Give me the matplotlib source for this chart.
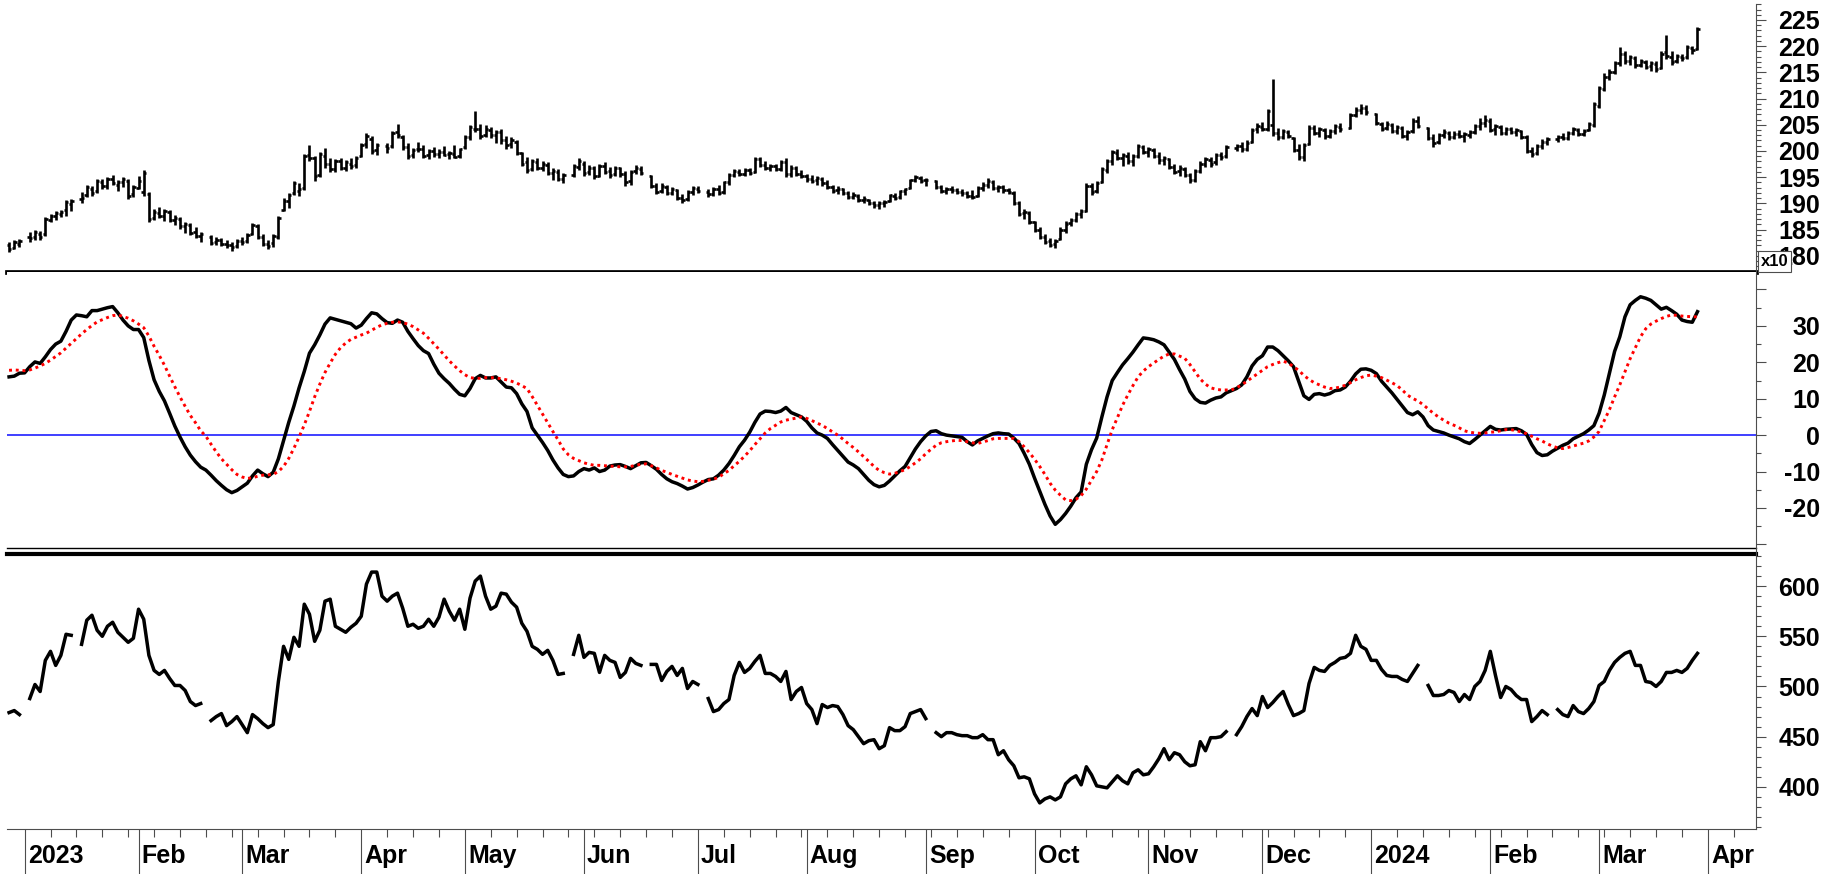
import numpy as np
import matplotlib
matplotlib.use("Agg")
import matplotlib.pyplot as plt
from matplotlib.collections import LineCollection
from matplotlib.ticker import MultipleLocator, FixedLocator, FuncFormatter
from matplotlib.lines import Line2D

plt.rcParams['font.family'] = ['Liberation Sans', 'DejaVu Sans']

# x = weekday index, 0 = Mon 2 Jan 2023 (holidays keep their slot, None = no data)
first_day = -3

# price bars, one row per week (Mon..Fri)
opens = [
    182.0, 181.5, 182.3,
    None, 183.6, 183.6, 184.2, 184.2,  186.8, 187.6, 188.0, 188.8, 189.8,
    None, 190.8, 191.6, 192.8, 192.4,  194.0, 193.4, 194.6, 193.6, 194.0,
    194.2, 191.8, 193.0, 192.2, 191.8,  187.2, 188.2, 187.6, 188.4, 186.8,
    187.0, 185.6, 185.8, 184.6, 183.8,  None, 183.6, 182.6, 183.0, 182.2,
    182.0, 181.8, 182.8, 182.8, 184.2,  185.6, 183.6, 182.2, 182.4, 183.6,
    188.8, 190.4, 192.0, 192.4, 193.0,  199.2, 198.6, 195.4, 199.0, 197.6,
    196.6, 198.0, 196.8, 197.6, 197.4,  199.0, 201.4, 202.2, 200.2, None,
    201.0, 201.0, 203.6, 202.6, 200.8,  199.2, 200.4, 200.4, 199.2, 200.0,
    199.4, 199.8, 199.4, 199.4, 199.0,  200.8, 202.6, 204.2, 204.2, 203.0,
    204.0, 203.0, 203.6, 202.0, 201.4,  201.8, 199.6, 197.8, 196.6, 197.8,
    196.8, 197.4, 195.8, 196.0, 194.6,  None, 195.4, 197.0, 197.6, 196.0,
    196.8, 195.2, 197.2, 196.2, 195.6,  196.8, 195.6, 194.2, 196.2, 196.6,
    None, 195.2, 193.4, 192.4, 193.2,  192.0, 192.6, 191.0, 190.8, 192.2,
    192.8, None, 192.2, 191.8, 192.8,  192.2, 194.0, 195.4, 196.0, 195.6,
    196.4, 196.0, 198.4, 197.4, 196.8,  197.2, 196.6, 197.8, 195.6, 196.8,
    195.6, 195.2, 194.6, 194.4, 194.6,  193.8, 193.2, 192.6, 192.8, 192.0,
    191.2, 191.4, 190.6, 190.6, 190.0,  189.6, 190.0, 190.4, 191.4, 191.2,
    192.4, 193.0, 194.4, 194.8, 194.4,  None, 194.2, 193.2, 192.4, 192.8,
    192.6, 192.2, 192.0, 191.4, 191.4,  193.0, 193.6, 194.0, 193.0, 193.2,
    192.6, 192.0, 190.0, 188.2, 188.2,  186.4, 185.0, 183.6, 182.8, 182.2,
    183.2, 185.0, 186.2, 186.8, 188.0,  188.6, 193.4, 192.4, 194.0, 196.4,
    198.0, 199.6, 198.6, 199.0, 198.0,  199.0, 200.8, 199.8, 200.2, 199.0,
    198.2, 198.4, 197.0, 196.2, 196.6,  195.4, 194.4, 196.2, 197.6, 198.2,
    197.8, 199.2, 199.0, None, 200.6,  201.0, 200.4, 201.8, 204.2, 204.6,
    204.2, 205.0, 203.4, 202.6, 203.6,  202.4, 200.2, 198.8, 201.4, 204.4,
    203.4, 204.0, 202.8, 203.8, 204.6,  None, 204.4, 206.8, 207.8, 208.2,
    None, 207.0, 205.2, 204.4, 205.0,  203.8, 204.4, 202.8, 203.8, 205.8,
    None, 204.4, 202.4, 201.8, 203.0,  203.4, 202.6, 203.2, 202.8, 203.0,
    203.6, 204.8, 205.4, 205.8, 204.2,  204.6, 203.4, 204.2, 203.6, 203.8,
    202.6, 200.0, 199.6, 201.0, 201.8,  None, 202.2, 202.6, 202.4, 203.4,
    204.0, 203.2, 204.0, 205.0, 208.6,  211.8, 214.2, 215.0, 216.8, 218.6,
    217.2, 217.8, 216.4, 217.0, 216.2,  216.6, 215.8, 218.8, 218.0, 217.2,
    218.0, 218.0, 219.6, 219.4,
]
highs = [
    182.6, 183.0, 183.2,
    None, 184.6, 185.0, 184.8, 187.4,  188.0, 188.6, 188.8, 190.6, 190.8,
    None, 192.2, 193.6, 193.4, 194.6,  194.6, 195.0, 195.4, 194.4, 195.0,
    194.6, 193.6, 195.2, 196.4, 192.2,  189.0, 189.4, 189.0, 188.8, 187.8,
    187.4, 186.4, 186.2, 185.4, 184.6,  None, 184.0, 183.6, 183.4, 183.0,
    182.6, 183.2, 183.6, 184.4, 186.2,  186.0, 184.2, 183.0, 184.2, 187.6,
    191.0, 192.0, 194.2, 193.8, 199.4,  201.2, 199.0, 199.8, 200.6, 198.6,
    198.4, 198.6, 198.2, 198.6, 199.0,  201.6, 203.4, 202.8, 201.6, None,
    201.6, 203.8, 205.2, 203.0, 201.6,  200.6, 201.8, 201.2, 200.4, 200.8,
    200.4, 201.0, 200.0, 201.2, 200.6,  203.0, 205.0, 207.6, 205.2, 205.0,
    204.6, 204.0, 204.2, 202.8, 202.6,  202.0, 199.8, 198.8, 198.4, 198.6,
    198.0, 197.8, 196.8, 196.6, 195.8,  None, 197.6, 198.6, 198.0, 197.4,
    197.2, 197.6, 197.8, 197.0, 197.2,  197.0, 196.2, 196.4, 197.4, 197.2,
    None, 195.4, 193.8, 193.8, 193.6,  193.2, 192.8, 191.8, 192.6, 193.4,
    193.4, None, 192.8, 193.2, 193.6,  194.2, 195.8, 196.6, 196.6, 196.8,
    196.8, 198.8, 198.8, 198.0, 197.6,  197.6, 198.2, 198.6, 197.4, 197.2,
    196.4, 195.6, 195.4, 195.2, 195.0,  194.4, 193.6, 193.4, 193.0, 192.4,
    192.2, 191.8, 191.4, 190.8, 190.4,  190.4, 190.6, 191.8, 192.0, 192.6,
    193.0, 194.6, 195.4, 195.2, 194.8,  None, 194.4, 193.6, 193.2, 193.4,
    193.0, 192.8, 192.4, 192.6, 193.4,  194.0, 194.8, 194.4, 193.6, 193.6,
    193.0, 192.4, 190.4, 189.0, 188.6,  186.6, 185.4, 184.2, 183.4, 183.2,
    185.4, 186.6, 187.2, 188.4, 189.0,  193.8, 193.8, 194.2, 197.0, 198.4,
    200.2, 200.4, 199.6, 199.8, 199.4,  201.4, 201.2, 200.8, 200.6, 199.8,
    199.0, 198.6, 197.6, 197.4, 197.0,  195.8, 196.6, 198.0, 198.8, 198.8,
    199.6, 199.8, 201.2, None, 201.4,  201.8, 202.0, 204.4, 205.4, 205.6,
    208.0, 213.8, 204.4, 204.2, 204.0,  202.6, 201.4, 201.6, 205.0, 205.0,
    204.6, 204.4, 204.2, 205.2, 205.4,  None, 207.2, 208.4, 209.0, 208.8,
    None, 207.2, 205.6, 205.8, 205.4,  205.0, 204.8, 204.0, 206.2, 206.6,
    None, 204.6, 203.2, 203.4, 204.2,  203.8, 203.8, 204.0, 203.6, 204.0,
    205.2, 206.2, 206.8, 206.2, 205.2,  205.0, 204.6, 204.6, 204.4, 204.0,
    203.0, 200.8, 201.4, 202.2, 202.6,  None, 203.0, 203.4, 203.8, 204.6,
    204.4, 204.2, 205.6, 209.4, 212.4,  214.8, 215.6, 217.2, 219.8, 219.0,
    218.4, 218.2, 217.6, 217.4, 217.2,  217.2, 219.0, 222.2, 219.0, 218.6,
    218.6, 220.2, 220.0, 223.6,
]
lows = [
    180.8, 181.2, 181.6,
    None, 182.6, 183.0, 183.0, 183.8,  186.4, 186.8, 187.4, 187.6, 188.6,
    None, 190.0, 191.2, 191.4, 192.0,  192.8, 192.8, 193.6, 192.4, 193.2,
    190.8, 191.2, 192.8, 191.4, 186.5,  186.8, 187.2, 186.6, 186.4, 185.8,
    185.2, 184.4, 184.0, 183.4, 182.6,  None, 182.0, 182.0, 181.8, 181.4,
    181.0, 181.4, 182.0, 182.4, 184.0,  183.2, 181.8, 181.2, 181.6, 183.2,
    188.6, 189.2, 191.6, 191.4, 192.6,  198.0, 194.2, 195.0, 196.8, 196.0,
    196.0, 196.4, 196.2, 196.6, 196.8,  198.8, 200.6, 199.4, 199.2, None,
    199.6, 200.6, 202.4, 200.2, 198.4,  198.6, 199.8, 198.6, 198.4, 198.8,
    198.6, 199.0, 198.4, 198.6, 198.6,  200.4, 202.0, 203.6, 202.2, 202.6,
    202.4, 201.6, 201.4, 200.4, 200.6,  199.2, 197.2, 195.8, 196.2, 196.4,
    196.2, 195.4, 194.4, 194.2, 193.8,  None, 195.0, 196.4, 195.2, 195.4,
    194.6, 195.0, 195.6, 194.8, 195.2,  195.0, 193.4, 193.6, 195.6, 195.4,
    None, 193.0, 191.8, 192.0, 191.6,  191.6, 190.6, 190.0, 190.4, 191.6,
    192.0, None, 191.2, 191.4, 191.6,  191.8, 193.6, 195.0, 195.2, 195.2,
    195.4, 195.8, 197.0, 196.4, 196.2,  196.2, 196.2, 195.0, 195.0, 195.2,
    194.8, 194.0, 193.8, 193.6, 193.4,  192.8, 192.0, 191.8, 191.6, 190.8,
    190.8, 190.2, 190.0, 189.6, 189.2,  189.0, 189.4, 190.2, 190.6, 190.8,
    191.6, 192.8, 194.0, 193.8, 193.4,  None, 192.8, 192.0, 191.8, 192.0,
    191.8, 191.4, 191.0, 190.8, 191.2,  192.4, 193.0, 192.6, 192.2, 192.0,
    191.8, 189.6, 187.6, 187.0, 186.0,  184.6, 183.2, 182.2, 181.6, 181.4,
    183.0, 184.4, 185.6, 186.4, 187.2,  188.4, 191.6, 192.0, 193.8, 195.8,
    197.4, 198.2, 197.2, 197.6, 197.2,  198.6, 199.4, 198.8, 198.6, 197.6,
    197.4, 196.6, 195.6, 195.2, 195.0,  193.8, 194.0, 195.8, 197.0, 197.0,
    197.4, 198.2, 198.6, None, 200.0,  199.8, 200.0, 201.6, 203.4, 203.8,
    203.8, 202.8, 202.0, 202.2, 202.4,  199.8, 198.2, 198.0, 201.2, 203.0,
    202.6, 202.2, 202.4, 203.2, 203.6,  None, 204.2, 206.4, 207.0, 206.8,
    None, 205.0, 203.8, 204.0, 203.4,  203.2, 202.4, 202.0, 203.4, 204.4,
    None, 202.0, 200.8, 201.4, 202.4,  202.0, 202.2, 202.4, 201.8, 202.4,
    203.2, 204.0, 204.6, 203.6, 203.0,  203.0, 203.0, 203.2, 202.8, 202.2,
    199.6, 198.8, 199.2, 200.4, 201.2,  None, 201.8, 202.0, 202.0, 203.0,
    202.8, 202.8, 203.8, 204.6, 208.2,  211.4, 213.6, 214.6, 216.2, 216.6,
    216.4, 215.8, 216.0, 215.6, 215.2,  215.0, 215.6, 217.6, 216.4, 216.8,
    217.2, 217.6, 218.6, 219.2,
]
closes = [
    181.2, 182.6, 182.8,
    None, 183.4, 184.6, 183.6, 187.0,  187.6, 188.2, 188.4, 190.2, 190.4,
    None, 191.0, 193.2, 192.0, 194.2,  193.4, 194.6, 193.8, 194.0, 194.6,
    191.4, 193.2, 194.2, 195.8, 187.0,  188.4, 187.6, 188.6, 186.8, 187.2,
    185.6, 186.0, 184.4, 183.8, 184.2,  None, 182.4, 183.0, 182.2, 182.0,
    181.6, 182.8, 182.6, 184.0, 185.8,  183.6, 182.2, 181.8, 183.8, 187.2,
    190.4, 191.6, 193.8, 192.8, 199.0,  198.6, 195.2, 199.4, 197.6, 196.6,
    198.0, 196.8, 197.8, 197.2, 198.6,  201.2, 202.8, 200.0, 201.2, None,
    200.6, 203.4, 203.0, 200.8, 199.0,  200.2, 200.4, 199.0, 200.0, 199.4,
    199.8, 199.2, 199.6, 198.8, 200.4,  202.6, 204.6, 204.2, 202.8, 204.2,
    203.0, 203.6, 202.0, 201.2, 202.0,  199.6, 197.6, 196.4, 198.0, 196.8,
    197.6, 195.8, 196.2, 194.6, 195.4,  None, 197.2, 198.0, 195.8, 196.8,
    195.2, 197.2, 196.0, 195.4, 196.8,  195.6, 194.0, 196.0, 196.8, 195.8,
    None, 193.4, 192.2, 193.4, 192.0,  192.8, 191.0, 190.6, 192.2, 193.0,
    192.4, None, 191.8, 192.8, 192.0,  194.0, 195.4, 196.2, 195.6, 196.4,
    195.8, 198.4, 197.4, 196.8, 197.2,  196.6, 197.8, 195.6, 196.8, 195.6,
    195.2, 194.6, 194.2, 194.8, 193.8,  193.2, 192.4, 192.8, 192.0, 191.2,
    191.6, 190.6, 190.8, 190.0, 189.6,  190.0, 190.2, 191.6, 191.0, 192.4,
    192.8, 194.4, 195.0, 194.2, 194.4,  None, 193.2, 192.4, 192.8, 192.6,
    192.2, 192.0, 191.4, 191.2, 193.0,  193.6, 194.2, 193.0, 193.2, 192.6,
    192.2, 190.0, 188.0, 188.4, 186.4,  185.0, 183.6, 182.6, 182.0, 182.8,
    185.0, 186.0, 186.8, 188.0, 188.6,  193.4, 192.2, 193.8, 196.6, 198.0,
    199.8, 198.6, 199.2, 198.0, 199.0,  201.0, 199.8, 200.4, 199.0, 198.2,
    198.6, 197.0, 196.0, 196.8, 195.4,  194.4, 196.2, 197.6, 198.4, 197.6,
    199.2, 198.8, 200.8, None, 201.0,  200.4, 201.6, 204.0, 204.8, 204.2,
    207.6, 203.4, 202.6, 203.8, 202.8,  200.2, 198.8, 201.2, 204.4, 203.4,
    204.2, 202.8, 203.8, 204.8, 204.2,  None, 206.8, 207.8, 208.2, 207.4,
    None, 205.4, 204.2, 205.2, 203.8,  204.6, 202.8, 203.6, 205.8, 204.8,
    None, 202.4, 201.6, 203.0, 203.6,  202.6, 203.2, 202.8, 203.2, 203.6,
    204.8, 205.4, 206.0, 204.0, 204.8,  203.4, 204.2, 203.6, 204.0, 202.6,
    200.0, 199.4, 201.0, 201.8, 202.2,  None, 202.6, 202.4, 203.4, 204.2,
    203.2, 203.8, 205.2, 209.0, 212.0,  214.2, 215.0, 216.8, 218.6, 217.2,
    218.0, 216.4, 217.2, 216.0, 216.8,  215.6, 218.6, 218.2, 217.0, 218.2,
    217.8, 219.8, 219.2, 223.2,
]

# middle panel: oscillator (black) and its signal line (red dotted)
oscillator = [
    16.0, 16.2, 17.0,
    17.1, 18.8, 20.1, 19.7, 21.5,  23.5, 25.0, 25.8, 28.5, 31.6,
    33.0, 32.8, 32.5, 34.2, 34.2,  34.6, 35.0, 35.3, 33.6, 31.6,
    30.0, 29.0, 29.0, 26.8, 20.5,  15.2, 12.0, 9.4, 6.0, 2.5,
    -0.5, -3.2, -5.5, -7.3, -8.8,  -9.6, -11.0, -12.5, -13.8, -15.0,
    -15.8, -15.2, -14.2, -13.2, -11.2,  -9.6, -10.6, -11.4, -10.2, -6.5,
    -1.5, 3.5, 8.0, 13.0, 17.5,  22.5, 24.8, 27.5, 30.5, 32.2,
    31.8, 31.4, 31.0, 30.6, 29.4,  30.2, 32.0, 33.6, 33.3, 32.0,
    30.9, 30.7, 31.6, 31.0, 28.5,  26.5, 24.6, 23.2, 22.4, 19.5,
    17.0, 15.5, 14.2, 12.6, 11.2,  10.8, 12.8, 15.5, 16.4, 15.7,
    15.7, 16.0, 14.6, 13.2, 13.0,  11.4, 8.6, 6.5, 2.0, 0.0,
    -2.0, -4.2, -6.8, -9.0, -10.8,  -11.4, -11.2, -10.0, -9.2, -9.6,
    -9.0, -10.0, -9.6, -8.5, -8.2,  -8.1, -8.6, -9.2, -8.4, -7.6,
    -7.5, -8.4, -9.4, -10.8, -12.0,  -12.8, -13.3, -14.0, -14.8, -14.4,
    -13.7, -12.9, -12.2, -12.0, -11.0,  -9.6, -7.8, -5.6, -3.2, -1.4,
    0.8, 3.5, 5.8, 6.6, 6.5,  6.2, 6.6, 7.6, 6.2, 5.6,
    5.0, 3.8, 2.0, 0.6, 0.0,  -0.9, -2.6, -4.2, -5.8, -7.4,
    -8.2, -9.2, -10.8, -12.4, -13.6,  -14.2, -13.8, -12.6, -11.2, -9.8,
    -8.6, -6.2, -3.8, -1.8, -0.2,  1.0, 1.2, 0.4, 0.0, -0.2,
    -0.4, -0.6, -1.8, -2.7, -1.6,  -0.9, -0.2, 0.4, 0.6, 0.4,
    0.3, -0.8, -2.3, -5.0, -8.0,  -11.8, -15.4, -19.0, -22.2, -24.5,
    -23.2, -21.5, -19.5, -17.2, -15.6,  -8.0, -4.0, -0.8, 5.0, 10.5,
    15.0, 17.2, 19.3, 21.0, 22.8,  24.8, 26.7, 26.5, 26.2, 25.6,
    24.8, 22.8, 20.8, 18.0, 15.4,  12.0, 10.0, 9.0, 8.8, 9.6,
    10.2, 10.5, 11.6, 12.2, 12.8,  13.8, 16.0, 19.0, 20.8, 21.8,
    24.2, 24.2, 23.2, 21.8, 20.4,  18.8, 14.8, 10.8, 9.8, 11.2,
    11.4, 11.0, 11.4, 12.2, 12.4,  13.2, 14.8, 16.8, 18.1, 18.2,
    17.8, 16.9, 14.8, 13.2, 11.6,  9.8, 8.0, 6.2, 5.6, 6.4,
    5.0, 2.6, 1.4, 1.0, 0.6,  0.0, -0.5, -1.0, -1.8, -2.3,
    -1.2, 0.0, 1.2, 2.4, 1.6,  1.4, 1.6, 1.7, 1.8, 1.2,
    0.2, -2.6, -4.8, -5.6, -5.4,  -4.4, -3.6, -2.8, -2.2, -1.0,
    -0.3, 0.4, 1.4, 2.6, 6.0,  11.0, 17.0, 23.0, 27.0, 32.5,
    35.8, 37.0, 38.0, 37.6, 37.0,  35.8, 34.6, 35.1, 34.2, 33.2,
    31.6, 31.2, 31.0, 33.9,
]
signal = [
    17.8, 17.9, 17.8,
    17.7, 17.9, 18.4, 19.0, 19.7,  20.6, 21.6, 22.6, 23.9, 25.2,
    26.5, 27.8, 29.0, 30.1, 31.1,  31.7, 32.3, 32.8, 33.0, 32.6,
    32.1, 31.4, 30.5, 29.5, 27.2,  24.4, 21.9, 19.2, 16.2, 13.3,
    10.5, 7.9, 5.4, 3.4, 1.2,  -0.3, -2.5, -4.6, -6.5, -8.0,
    -9.5, -10.8, -11.5, -11.9, -11.7,  -11.3, -11.0, -10.9, -10.8, -10.0,
    -8.6, -6.4, -3.6, -0.5, 2.8,  6.5, 10.5, 14.0, 17.2, 19.8,
    22.2, 24.0, 25.3, 26.3, 26.9,  27.5, 28.0, 28.8, 29.6, 30.3,
    30.7, 31.0, 31.1, 30.9, 30.5,  29.8, 28.9, 28.0, 26.6, 25.1,
    23.6, 22.0, 20.4, 19.0, 17.7,  16.6, 15.8, 15.6, 15.6, 15.8,
    15.8, 15.7, 15.5, 15.2, 14.8,  14.3, 13.6, 12.8, 10.6, 8.2,
    5.8, 3.4, 1.0, -1.3, -3.8,  -5.4, -6.4, -7.0, -7.6, -8.0,
    -8.3, -8.3, -8.4, -8.5, -8.6,  -8.7, -8.7, -8.6, -8.3, -8.0,
    -7.9, -8.4, -9.0, -9.7, -10.2,  -10.8, -11.3, -11.8, -12.3, -12.6,
    -12.8, -12.7, -12.4, -12.1, -11.6,  -10.6, -9.7, -8.4, -7.2, -5.8,
    -4.3, -2.6, -1.0, 0.6, 1.8,  2.7, 3.6, 4.1, 4.4, 4.7,
    5.0, 4.6, 4.0, 3.3, 2.7,  1.8, 0.9, 0.0, -1.1, -2.3,
    -3.4, -4.6, -5.9, -7.2, -8.6,  -9.7, -10.3, -10.7, -10.5, -10.0,
    -9.5, -8.6, -7.6, -6.5, -5.1,  -3.9, -2.8, -2.1, -1.8, -1.6,
    -1.4, -1.5, -1.8, -2.1, -2.3,  -1.9, -1.5, -1.0, -0.9, -0.9,
    -0.9, -0.9, -1.8, -3.2, -4.8,  -6.6, -8.6, -10.8, -13.2, -15.1,
    -16.5, -17.8, -18.0, -17.6, -16.6,  -14.8, -12.4, -10.0, -6.8, -2.6,
    1.5, 4.8, 8.2, 11.0, 13.6,  16.0, 17.6, 18.8, 19.8, 20.8,
    21.7, 22.3, 22.3, 21.7, 21.1,  19.4, 17.4, 15.4, 14.0, 13.0,
    12.6, 12.4, 12.4, 12.4, 13.0,  13.8, 14.8, 15.8, 16.8, 17.8,
    18.8, 19.4, 19.9, 20.3, 19.8,  18.8, 17.8, 16.4, 15.3, 14.4,
    13.8, 13.2, 12.8, 12.9, 13.2,  13.7, 14.4, 15.2, 15.8, 16.3,
    16.5, 16.2, 15.8, 15.1, 14.4,  13.6, 12.4, 11.0, 10.1, 9.4,
    8.4, 7.2, 6.0, 5.0, 4.1,  3.3, 2.7, 2.0, 1.2, 0.8,
    0.6, 0.5, 0.6, 0.8, 0.9,  1.2, 1.5, 1.5, 1.2, 0.9,
    0.4, -0.3, -1.0, -1.6, -2.4,  -3.0, -3.5, -3.7, -3.4, -3.0,
    -2.6, -2.2, -1.6, -0.5, 1.0,  4.0, 7.0, 10.5, 13.8, 17.4,
    21.0, 24.0, 27.0, 29.2, 30.5,  31.3, 32.0, 32.6, 33.0, 32.9,
    32.7, 32.6, 32.5, 32.5,
]

# bottom panel line (breaks on market holidays)
breadth = [
    474, 476, 472,
    None, 488, 502, 495, 526,  535, 521, 531, 552, 551,
    None, 542, 566, 571, 556,  550, 560, 564, 554, 549,
    544, 548, 577, 567, 531,  516, 512, 516, 508, 501,
    501, 496, 485, 481, 483,  None, 466, 470, 473, 461,
    465, 470, 462, 454, 472,  468, 463, 459, 462, 505,
    540, 527, 549, 540, 582,  572, 545, 556, 585, 587,
    560, 557, 554, 559, 563,  570, 602, 614, 614, 590,
    585, 590, 593, 578, 560,  562, 558, 560, 567, 560,
    569, 587, 575, 566, 577,  557, 588, 605, 610, 590,
    577, 580, 593, 592, 584,  579, 563, 555, 540, 537,
    532, 536, 526, 512, 513,  None, 532, 551, 529, 534,
    533, 514, 531, 526, 524,  509, 514, 528, 523, 521,
    None, 522, 522, 506, 515,  520, 511, 518, 498, 505,
    502, None, 488, 475, 477,  483, 487, 511, 524, 514,
    518, 525, 531, 513, 513,  510, 505, 515, 487, 495,
    499, 483, 477, 463, 482,  479, 481, 480, 472, 461,
    457, 450, 443, 446, 447,  438, 441, 459, 456, 456,
    460, 473, 475, 477, 468,  None, 454, 450, 454, 454,
    452, 451, 451, 449, 449,  452, 447, 447, 432, 436,
    427, 421, 409, 410, 408,  393, 384, 388, 390, 387,
    390, 403, 408, 411, 402,  420, 412, 401, 400, 399,
    405, 411, 406, 403, 414,  417, 412, 413, 420, 428,
    438, 427, 434, 432, 425,  421, 422, 445, 436, 449,
    449, 450, 455, None, 452,  460, 470, 478, 471, 490,
    479, 484, 490, 495, 482,  471, 473, 476, 503, 519,
    516, 515, 521, 524, 528,  529, 533, 551, 540, 537,
    526, 526, 517, 511, 510,  510, 507, 505, 513, 521,
    None, 501, 491, 491, 492,  496, 494, 485, 492, 487,
    500, 505, 516, 535, 511,  489, 500, 497, 491, 487,
    487, 465, 470, 476, 472,  None, 477, 472, 470, 481,
    475, 473, 478, 485, 501,  505, 516, 524, 529, 533,
    535, 521, 521, 505, 504,  500, 505, 514, 514, 516,
    514, 518, 526, 533,
]

# calendar: first weekday index of each month and its label
month_starts = [0, 22, 42, 65, 85, 108, 130, 151, 174, 195, 217, 239, 260, 283, 304, 325]
month_labels = ['2023', 'Feb', 'Mar', 'Apr', 'May', 'Jun', 'Jul', 'Aug', 'Sep',
                'Oct', 'Nov', 'Dec', '2024', 'Feb', 'Mar', 'Apr']

days = np.arange(first_day, first_day + len(closes))
o = np.array(opens, dtype=float)
h = np.array(highs, dtype=float)
l = np.array(lows, dtype=float)
c = np.array(closes, dtype=float)

W, H = 1839, 874
fig = plt.figure(figsize=(W / 100, H / 100), dpi=100)

x_left, x_right = 7, 1756


def panel(top, bottom):
    return fig.add_axes([x_left / W, 1 - bottom / H, (x_right - x_left) / W, (bottom - top) / H])


ax1 = panel(4, 272)
ax2 = panel(272, 548)
ax3 = panel(554, 829)

xlim = (-3.4, 334.3)
tick_col = '0.3'

# --- price bars
segs = []
for d, op, hi, lo, cl in zip(days, o, h, l, c):
    if np.isnan(cl):
        continue
    segs.append([(d, lo), (d, hi)])
    segs.append([(d - 0.45, op), (d, op)])
    segs.append([(d, cl), (d + 0.45, cl)])
ax1.add_collection(LineCollection(segs, colors='black', linewidths=1.9, capstyle='butt'))
ax1.set_ylim(176.9, 228.05)
ax1.yaxis.set_major_locator(FixedLocator(np.arange(180, 226, 5)))
ax1.yaxis.set_minor_locator(MultipleLocator(1))

# --- oscillator
ax2.axhline(0, color='#1f1fff', lw=1.2, zorder=1)
ax2.plot(days, oscillator, color='black', lw=2.5, zorder=2)
ax2.plot(days, signal, color='red', lw=2.1, ls=(0, (1, 1.3)), dash_capstyle='butt', zorder=3)
ax2.set_ylim(-31.0, 44.8)
ax2.yaxis.set_major_locator(FixedLocator(np.arange(-30, 41, 10)))
ax2.yaxis.set_minor_locator(MultipleLocator(5))
ax2.yaxis.set_major_formatter(FuncFormatter(lambda v, p: '' if v < -25 or v > 35 else '%d' % v))

# --- bottom line
ax3.plot(days, np.array(breadth, dtype=float), color='black', lw=2.5)
ax3.set_ylim(358, 632)
ax3.yaxis.set_major_locator(FixedLocator(np.arange(400, 601, 50)))
ax3.yaxis.set_minor_locator(MultipleLocator(10))

for ax in (ax1, ax2, ax3):
    ax.set_xlim(*xlim)
    ax.yaxis.tick_right()
    for s in ('left', 'right', 'top', 'bottom'):
        ax.spines[s].set_visible(False)
    ax.tick_params(axis='y', which='major', direction='out', length=7.2, width=0.8,
                   color=tick_col, pad=38.8, labelsize=18)
    ax.tick_params(axis='y', which='minor', direction='out', length=3.6, width=0.8, color=tick_col)
    for t in ax.get_yticklabels():
        t.set_horizontalalignment('right')
        t.set_fontweight('bold')

ax1.set_xticks([])
ax2.set_xticks([])

ax1.spines['bottom'].set_visible(True)
ax1.spines['bottom'].set_linewidth(3.4)
ax1.spines['bottom'].set_color('black')
ax2.spines['bottom'].set_visible(True)
ax2.spines['bottom'].set_linewidth(1.0)
ax2.spines['bottom'].set_color('black')
ax3.spines['top'].set_visible(True)
ax3.spines['top'].set_linewidth(3.0)
ax3.spines['top'].set_color('black')
ax3.spines['bottom'].set_visible(True)
ax3.spines['bottom'].set_linewidth(0.8)
ax3.spines['bottom'].set_color(tick_col)

# date axis: long lines at month starts, short ticks on Mondays
ax3.xaxis.set_major_locator(FixedLocator(month_starts))
ax3.xaxis.set_minor_locator(FixedLocator(np.arange(0, 335, 5)))
ax3.tick_params(axis='x', which='major', direction='out', length=33, width=0.8,
                color=tick_col, labelbottom=False)
ax3.tick_params(axis='x', which='minor', direction='out', length=5.8, width=0.8, color=tick_col)
for m, lab in zip(month_starts, month_labels):
    ax3.text(m + 0.6, -0.1236, lab, transform=ax3.get_xaxis_transform(), ha='left',
             va='baseline', fontsize=18, fontweight='bold', clip_on=False)

# continuous right axis line through all panels
fig.add_artist(Line2D([x_right / W, x_right / W], [1 - 4 / H, 1 - 829 / H],
                      transform=fig.transFigure, color=tick_col, lw=0.8))

# scale box at the price panel's lower right corner (covers part of the 180 label, as in the source)
fig.text(1760.5 / W, 1 - 261 / H, 'x10', fontsize=12, fontweight='bold', ha='left',
         va='center', zorder=10,
         bbox=dict(boxstyle='square,pad=0.18', fc='white', ec=tick_col, lw=0.8))

fig.savefig('out.png', dpi=100)
